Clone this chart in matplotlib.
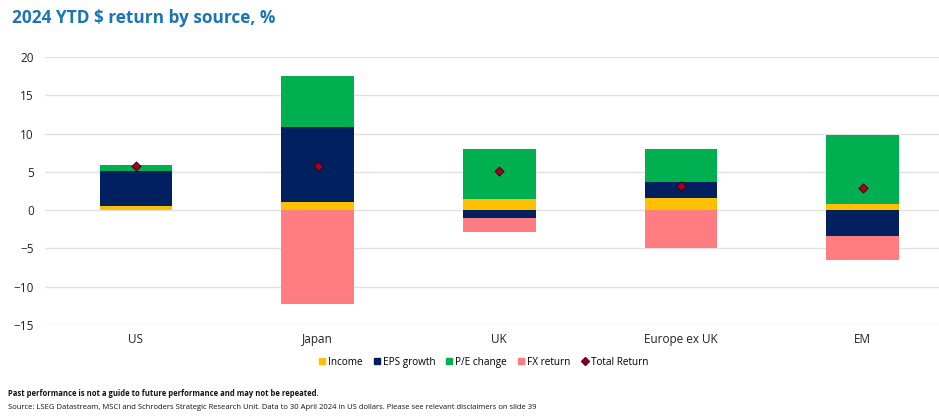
import numpy as np
import matplotlib.pyplot as plt
from matplotlib.lines import Line2D
from matplotlib.patches import Patch

plt.rcParams['font.family'] = ['Open Sans', 'DejaVu Sans']

# ---- data ----
regions = ["US", "Japan", "UK", "Europe ex UK", "EM"]
income = [0.5, 1.1, 1.5, 1.6, 0.8]
eps_growth = [4.6, 9.7, -1.0, 2.1, -3.4]
pe_change = [0.8, 6.7, 6.5, 4.3, 8.95]
fx_return = [0.0, -12.3, -1.9, -4.9, -3.05]
total_return = [5.8, 5.8, 5.1, 3.1, 2.9]

series = [
    ("Income", income, "#FFC000"),
    ("EPS growth", eps_growth, "#002060"),
    ("P/E change", pe_change, "#00B050"),
    ("FX return", fx_return, "#FF7C80"),
]

fig = plt.figure(figsize=(9.39, 4.2), dpi=100)
ax = fig.add_axes([0.048, 0.2262, 0.952, 0.6381])

x = np.arange(len(regions))
width = 0.4
pos_base = np.zeros(len(regions))
neg_base = np.zeros(len(regions))
for name, vals, col in series:
    vals = np.array(vals)
    bottoms = np.where(vals >= 0, pos_base, neg_base)
    ax.bar(x, vals, width, bottom=bottoms, color=col, zorder=2, linewidth=0)
    pos_base = pos_base + np.where(vals >= 0, vals, 0)
    neg_base = neg_base + np.where(vals < 0, vals, 0)

ax.scatter(x, total_return, marker="D", s=22, color="#A50021",
           edgecolors="#3a0010", linewidths=0.6, zorder=3)

ax.set_ylim(-15, 20)
ax.set_xlim(-0.5, 4.42)
ax.set_yticks(range(-15, 21, 5))
ax.set_xticks(x)
ax.set_xticklabels(regions)
ax.tick_params(length=0, labelsize=8.5, colors="#222222")
ax.tick_params(axis="y", pad=8)
ax.tick_params(axis="x", pad=6)
ax.grid(axis="y", color="#E2E2E2", linewidth=1, zorder=0)
for s in ax.spines.values():
    s.set_visible(False)

handles = [Patch(color=c, label=n) for n, _, c in series]
handles.append(Line2D([], [], marker="D", linestyle="none", color="#7B0020",
                      markersize=4, label="Total Return"))
fig.legend(handles=handles, loc="center", bbox_to_anchor=(0.515, 0.138),
           ncol=5, frameon=False, fontsize=7.2, handlelength=0.6,
           handleheight=0.6, handletextpad=0.3, columnspacing=1.1)

fig.text(0.013, 0.957, "2024 YTD $ return by source, %", fontsize=12.4,
         fontweight="bold", color="#1A75B5", va="center")
fig.text(0.009, 0.062, "Past performance is not a guide to future performance and may not be repeated.",
         fontsize=5.5, fontweight="bold", color="#111111", va="center")
fig.text(0.009, 0.03, "Source: LSEG Datastream, MSCI and Schroders Strategic Research Unit. "
         "Data to 30 April 2024 in US dollars. Please see relevant disclaimers on slide 39",
         fontsize=5.5, color="#111111", va="center")

fig.savefig("out.png", dpi=100)
